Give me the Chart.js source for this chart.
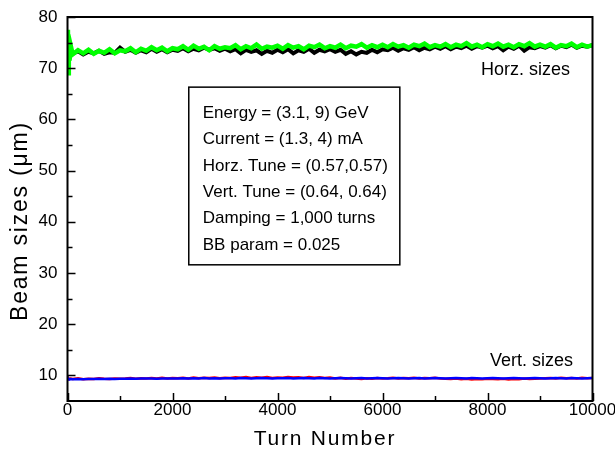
<!DOCTYPE html>
<html>
<head>
<meta charset="utf-8">
<script src="https://cdn.jsdelivr.net/npm/chart.js@4/dist/chart.umd.min.js"></script>
<style>
  html, body { margin: 0; padding: 0; background: #fff; }
  #wrap { width: 615px; height: 453px; }
</style>
</head>
<body>
<div id="wrap"><canvas id="beamChart" width="615" height="453"></canvas></div>
<script>
const turns = [0, 8, 16, 25, 40, 60,
  100, 200, 300, 400, 500, 600, 700, 800, 900, 1000,
  1100, 1200, 1300, 1400, 1500, 1600, 1700, 1800, 1900, 2000,
  2100, 2200, 2300, 2400, 2500, 2600, 2700, 2800, 2900, 3000,
  3100, 3200, 3300, 3400, 3500, 3600, 3700, 3800, 3900, 4000,
  4100, 4200, 4300, 4400, 4500, 4600, 4700, 4800, 4900, 5000,
  5100, 5200, 5300, 5400, 5500, 5600, 5700, 5800, 5900, 6000,
  6100, 6200, 6300, 6400, 6500, 6600, 6700, 6800, 6900, 7000,
  7100, 7200, 7300, 7400, 7500, 7600, 7700, 7800, 7900, 8000,
  8100, 8200, 8300, 8400, 8500, 8600, 8700, 8800, 8900, 9000,
  9100, 9200, 9300, 9400, 9500, 9600, 9700, 9800, 9900, 10000];

// horizontal sizes (um)
const horzGreen = [72.5, 77.5, 69.0, 76.0, 71.5, 74.5,
  72.7, 73.5, 72.9, 73.6, 72.8, 73.4, 73.0, 73.7, 72.9, 73.5,
  73.3, 73.9, 73.1, 73.8, 73.4, 74.1, 73.5, 74.0, 73.3, 73.9,
  73.7, 74.3, 73.6, 74.4, 73.8, 74.2, 73.5, 74.3, 73.8, 74.1,
  73.9, 74.5, 73.7, 74.3, 73.9, 74.6, 73.8, 74.2, 74.0, 74.4,
  73.8, 74.5, 74.0, 74.3, 73.7, 74.4, 74.1, 74.6, 73.9, 74.3,
  74.0, 74.6, 73.9, 74.4, 74.2, 74.7, 74.0, 74.5, 74.1, 74.6,
  74.1, 74.7, 74.2, 74.5, 74.0, 74.6, 74.3, 74.8, 74.1, 74.5,
  74.2, 74.7, 74.1, 74.6, 74.3, 74.9, 74.2, 74.6, 74.1, 74.7,
  74.3, 74.8, 74.2, 74.6, 74.1, 74.7, 74.3, 74.9, 74.2, 74.6,
  74.2, 74.7, 74.0, 74.5, 74.3, 74.8, 74.1, 74.6, 74.2, 74.5];
const horzBlack = [73.3, 76.0, 72.3, 73.8, 72.8, 73.3,
  72.8, 73.3, 72.7, 73.2, 72.9, 73.4, 72.8, 73.1, 73.0, 74.0,
  73.2, 73.6, 73.0, 73.5, 73.1, 73.8, 73.2, 73.7, 73.1, 73.6,
  73.4, 73.9, 73.3, 73.8, 73.5, 74.0, 73.6, 73.9, 73.4, 73.8,
  73.3, 73.7, 72.9, 73.6, 73.2, 73.5, 72.8, 73.4, 73.0, 73.6,
  73.1, 73.7, 72.9, 73.5, 73.2, 73.8, 73.0, 73.6, 73.3, 73.7,
  73.2, 73.6, 72.8, 73.3, 72.7, 73.2, 73.0, 73.6, 73.1, 73.7,
  73.5, 74.0, 73.4, 73.9, 73.6, 74.1, 73.5, 74.0, 73.7, 74.2,
  73.8, 74.3, 73.7, 74.2, 73.9, 74.4, 73.8, 74.3, 74.0, 74.4,
  73.9, 74.3, 73.5, 74.2, 73.8, 74.4, 73.4, 74.1, 73.9, 74.3,
  74.0, 74.5, 73.9, 74.4, 74.1, 74.6, 74.0, 74.4, 74.2, 74.5];

// vertical sizes (um)
const vertBlue = [9.3, 9.4, 9.2, 9.3, 9.25, 9.3,
  9.25, 9.3, 9.25, 9.3, 9.3, 9.35, 9.3, 9.35, 9.3, 9.35,
  9.35, 9.4, 9.35, 9.4, 9.4, 9.4, 9.35, 9.4, 9.4, 9.4,
  9.4, 9.45, 9.4, 9.45, 9.4, 9.5, 9.4, 9.45, 9.4, 9.45,
  9.45, 9.4, 9.5, 9.45, 9.4, 9.45, 9.5, 9.45, 9.4, 9.45,
  9.45, 9.5, 9.4, 9.45, 9.5, 9.45, 9.4, 9.5, 9.45, 9.4,
  9.45, 9.5, 9.45, 9.4, 9.45, 9.5, 9.4, 9.45, 9.5, 9.45,
  9.4, 9.45, 9.5, 9.45, 9.4, 9.45, 9.5, 9.4, 9.45, 9.5,
  9.45, 9.4, 9.45, 9.5, 9.45, 9.4, 9.5, 9.45, 9.4, 9.45,
  9.5, 9.45, 9.4, 9.45, 9.5, 9.45, 9.4, 9.45, 9.5, 9.45,
  9.4, 9.45, 9.5, 9.45, 9.4, 9.5, 9.45, 9.4, 9.45, 9.5];
const vertRed = [9.4, 9.5, 9.3, 9.4, 9.3, 9.4,
  9.3, 9.45, 9.25, 9.35, 9.3, 9.45, 9.35, 9.3, 9.4, 9.35,
  9.4, 9.5, 9.35, 9.45, 9.4, 9.5, 9.4, 9.55, 9.4, 9.5,
  9.45, 9.55, 9.4, 9.6, 9.45, 9.55, 9.5, 9.6, 9.45, 9.55,
  9.5, 9.65, 9.55, 9.7, 9.5, 9.65, 9.55, 9.7, 9.5, 9.6,
  9.55, 9.7, 9.6, 9.65, 9.5, 9.7, 9.55, 9.65, 9.5, 9.6,
  9.4, 9.55, 9.35, 9.5, 9.4, 9.3, 9.45, 9.35, 9.5, 9.4,
  9.45, 9.55, 9.4, 9.5, 9.45, 9.55, 9.4, 9.5, 9.45, 9.55,
  9.4, 9.35, 9.3, 9.4, 9.25, 9.35, 9.2, 9.3, 9.25, 9.35,
  9.3, 9.25, 9.35, 9.2, 9.3, 9.25, 9.4, 9.3, 9.35, 9.4,
  9.45, 9.5, 9.4, 9.55, 9.45, 9.5, 9.4, 9.55, 9.45, 9.5];

const xTicks = [0, 2000, 4000, 6000, 8000, 10000];
const yTicks = [10, 20, 30, 40, 50, 60, 70, 80];

const infoLines = [
  'Energy = (3.1, 9) GeV',
  'Current = (1.3, 4) mA',
  'Horz. Tune = (0.57,0.57)',
  'Vert. Tune = (0.64, 0.64)',
  'Damping = 1,000 turns',
  'BB param = 0.025'
];

const FONT = '"Liberation Sans", Arial, Helvetica, sans-serif';

const pts = (ys) => turns.map((t, i) => ({ x: t, y: ys[i] }));

// frame, inward ticks, axis titles, info box and the two labels
const decor = {
  id: 'decor',
  afterDatasetsDraw(chart) {
    const { ctx, chartArea: a, scales: { x, y } } = chart;
    ctx.save();
    ctx.strokeStyle = '#000';
    ctx.lineWidth = 2;
    ctx.strokeRect(a.left, a.top, a.right - a.left, a.bottom - a.top);

    ctx.lineWidth = 1.5;
    ctx.beginPath();
    for (let t = 0; t <= 10000; t += 1000) {
      const px = Math.round(x.getPixelForValue(t)) + 0.5;
      const len = t % 2000 === 0 ? 8 : 5;
      ctx.moveTo(px, a.bottom);
      ctx.lineTo(px, a.bottom - len);
    }
    for (let v = 10; v <= 80; v += 5) {
      const py = Math.round(y.getPixelForValue(v)) + 0.5;
      const len = v % 10 === 0 ? 8 : 5;
      ctx.moveTo(a.left, py);
      ctx.lineTo(a.left + len, py);
    }
    ctx.stroke();

    // info box
    const bx0 = x.getPixelForValue(2310), bx1 = x.getPixelForValue(6330);
    const by0 = y.getPixelForValue(66.3), by1 = y.getPixelForValue(31.6);
    ctx.lineWidth = 1.5;
    ctx.strokeRect(bx0, by0, bx1 - bx0, by1 - by0);
    ctx.fillStyle = '#000';
    ctx.font = '17px ' + FONT;
    ctx.textBaseline = 'middle';
    ctx.textAlign = 'left';
    infoLines.forEach((s, i) => ctx.fillText(s, bx0 + 14, by0 + 26 + i * 26.4));

    ctx.font = '18px ' + FONT;
    ctx.textAlign = 'right';
    ctx.fillText('Horz. sizes', x.getPixelForValue(9570), y.getPixelForValue(69.6));
    ctx.fillText('Vert. sizes', x.getPixelForValue(9630), y.getPixelForValue(12.8));

    // axis titles
    ctx.textAlign = 'center';
    ctx.font = '21px ' + FONT;
    ctx.letterSpacing = '1.8px';
    ctx.fillText('Turn Number', (a.left + a.right) / 2 - 5, 439);
    ctx.font = '23px ' + FONT;
    ctx.letterSpacing = '1.8px';
    ctx.translate(21, 221);
    ctx.rotate(-Math.PI / 2);
    ctx.fillText('Beam sizes (\u03bcm)', 0, 0);
    ctx.restore();
  }
};

new Chart(document.getElementById('beamChart'), {
  type: 'line',
  data: {
    datasets: [
      { label: 'horz 2', data: pts(horzGreen), borderColor: '#00ff00', borderWidth: 4.5, order: 1 },
      { label: 'horz 1', data: pts(horzBlack), borderColor: '#000000', borderWidth: 4, order: 2 },
      { label: 'vert 2', data: pts(vertBlue), borderColor: '#0000ff', borderWidth: 2.5, order: 3 },
      { label: 'vert 1', data: pts(vertRed), borderColor: '#ff0000', borderWidth: 2.5, order: 4 }
    ]
  },
  options: {
    responsive: false,
    animation: false,
    events: [],
    layout: { padding: { top: 17, right: 22.5, left: 0, bottom: 0 } },
    elements: { point: { radius: 0 }, line: { tension: 0 } },
    plugins: { legend: { display: false }, tooltip: { enabled: false } },
    scales: {
      x: {
        type: 'linear',
        min: 0, max: 10000,
        grid: { display: false, drawTicks: false },
        border: { display: false },
        afterBuildTicks: (s) => { s.ticks = xTicks.map(v => ({ value: v })); },
        afterFit: (s) => { s.height = 52; s.paddingLeft = 0; s.paddingRight = 0; },
        ticks: { color: '#000', font: { size: 17, family: FONT }, padding: -1, maxRotation: 0,
                 callback: (v) => String(v) }
      },
      y: {
        min: 5, max: 80,
        grid: { display: false, drawTicks: false },
        border: { display: false },
        afterBuildTicks: (s) => { s.ticks = yTicks.map(v => ({ value: v })); },
        afterFit: (s) => { s.width = 67.5; s.paddingTop = 0; s.paddingBottom = 0; },
        ticks: { color: '#000', font: { size: 17, family: FONT }, padding: 10 }
      }
    }
  },
  plugins: [decor]
});
</script>
</body>
</html>
